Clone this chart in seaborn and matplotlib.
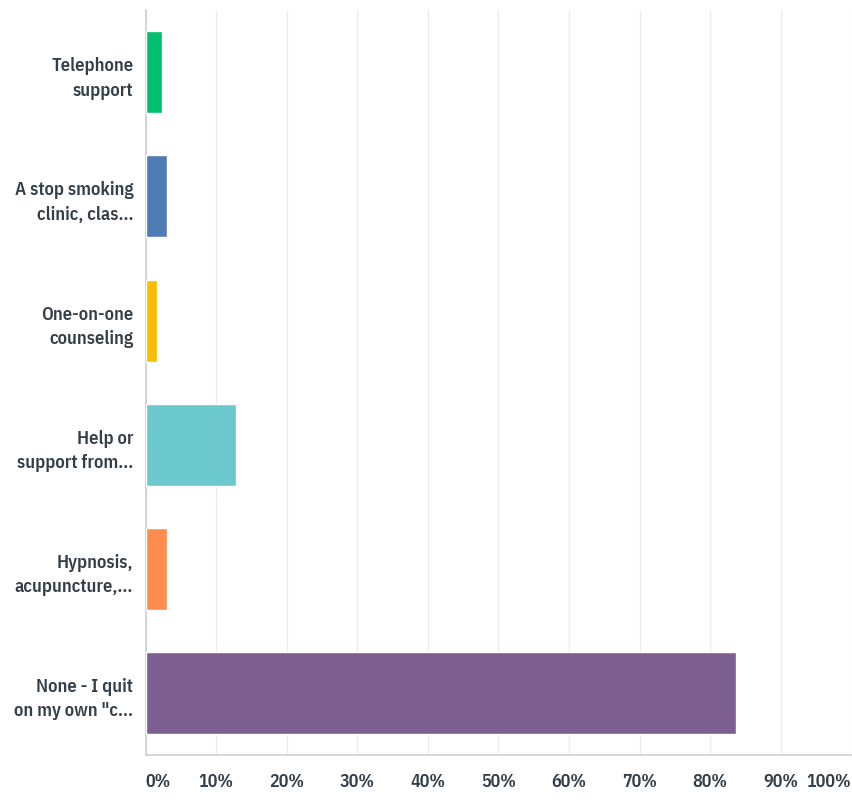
import pandas as pd
import seaborn as sns
import matplotlib.pyplot as plt

categories = [
    "Telephone\nsupport",
    "A stop smoking\nclinic, clas...",
    "One-on-one\ncounseling",
    "Help or\nsupport from...",
    "Hypnosis,\nacupuncture,...",
    "None - I quit\non my own \"c...",
]
percent = [2.35, 3.0, 1.55, 12.8, 3.0, 83.7]
bar_colors = ["#00bf6f", "#507cb6", "#f9be00", "#6bc8cd", "#ff8b4f", "#7d5e90"]
tick_values = [0, 10, 20, 30, 40, 50, 60, 70, 80, 90, 100]
tick_labels = [f"{v}%" for v in tick_values]

df = pd.DataFrame({"answer": categories, "percent": percent})

sns.set_theme(style="white")
plt.rcParams["font.family"] = ["IBM Plex Sans Condensed", "DejaVu Sans"]
text_color = "#333e48"

fig = plt.figure(figsize=(8.52, 8.04), dpi=100)
ax = fig.add_axes([0.171, 0.0597, 0.828, 0.9263])

sns.barplot(data=df, x="percent", y="answer", hue="answer", palette=bar_colors,
            legend=False, width=0.66, saturation=1, ax=ax, zorder=3)

ax.set_xlim(0, 100)
ax.set_ylim(5.5, -0.5)
ax.set_xticks(tick_values)
ax.set_xticklabels(tick_labels)
ax.xaxis.grid(True, color="#ebebeb", linewidth=1.0, zorder=0)
ax.set_axisbelow(True)
ax.set_xlabel("")
ax.set_ylabel("")

for s in ["top", "right"]:
    ax.spines[s].set_visible(False)
for s in ["left", "bottom"]:
    ax.spines[s].set_color("#cfcfcf")
    ax.spines[s].set_linewidth(1.2)

ax.tick_params(axis="x", length=0, pad=12, labelsize=13, labelcolor=text_color)
ax.tick_params(axis="y", length=0, pad=9, labelsize=13.3, labelcolor=text_color)
for lbl in ax.get_xticklabels():
    lbl.set_fontweight(600)
for lbl in ax.get_yticklabels():
    lbl.set_fontweight(600)
    lbl.set_multialignment("right")
    lbl.set_linespacing(1.45)

xl = ax.get_xticklabels()
xl[0].set_horizontalalignment("left")
xl[-1].set_horizontalalignment("right")

fig.savefig("out.png", dpi=100)
